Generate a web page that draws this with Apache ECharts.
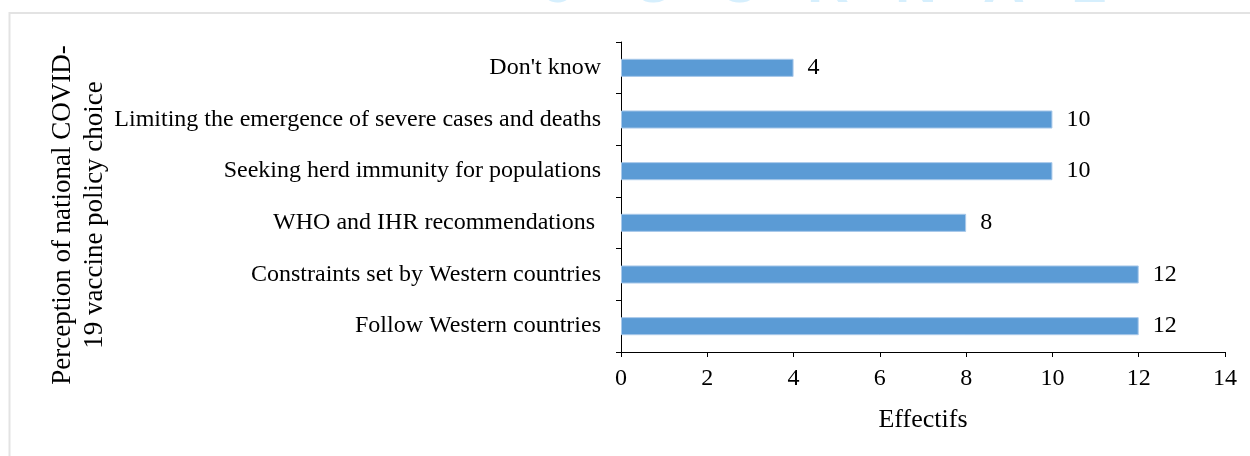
<!DOCTYPE html>
<html>
<head>
<meta charset="utf-8">
<script src="https://cdn.jsdelivr.net/npm/echarts@6/dist/echarts.min.js"></script>
<style>
  html, body { margin: 0; padding: 0; background: #fff; }
  #chart { width: 1250px; height: 456px; }
</style>
</head>
<body>
<div id="chart"></div>
<script>
// bottom to top, as on the axis
var categories = [
  'Follow Western countries',
  'Constraints set by Western countries',
  'WHO and IHR recommendations ',
  'Seeking herd immunity for populations',
  'Limiting the emergence of severe cases and deaths',
  "Don't know"
];
var effectifs = [12, 12, 8, 10, 10, 4];
var xTicks = [0, 2, 4, 6, 8, 10, 12, 14];
var yTitle = 'Perception of national COVID-\n19 vaccine policy choice';

var chart = echarts.init(document.getElementById('chart'));
var serif = '"Liberation Serif", "Times New Roman", serif';

// faint watermark letters cut off at the top of the page
var watermark = 'JOURNAL'.split('').map(function (ch, i) {
  return {
    type: 'text',
    x: 543 + i * 88,
    y: -43,
    style: {
      text: ch,
      font: 'bold 58px "Liberation Sans", sans-serif',
      fill: '#d6effd'
    }
  };
});

var option = {
  backgroundColor: '#fff',
  animation: false,
  textStyle: { fontFamily: serif },
  graphic: [
    {
      type: 'rect',
      shape: { x: 9.5, y: 13, width: 1260, height: 460 },
      style: { fill: 'none', stroke: '#e3e3e3', lineWidth: 2 }
    },
    {
      // y axis title, placed a bit below the plot middle as in the source
      type: 'text',
      x: 79,
      y: 215,
      rotation: Math.PI / 2,
      style: {
        text: yTitle,
        font: '27px ' + serif,
        lineHeight: 32,
        fill: '#000',
        align: 'center',
        verticalAlign: 'middle'
      }
    }
  ].concat(watermark),
  grid: { left: 621, right: 25, top: 42, bottom: 104 },
  xAxis: {
    type: 'value',
    min: 0,
    max: xTicks[xTicks.length - 1],
    interval: 2,
    name: 'Effectifs',
    nameLocation: 'middle',
    nameGap: 55,
    nameTextStyle: { fontSize: 26, color: '#000', fontFamily: serif },
    axisLine: { show: true, lineStyle: { color: '#000', width: 1 } },
    axisTick: { show: true, length: 5, lineStyle: { color: '#000' } },
    axisLabel: { fontSize: 24, color: '#000', margin: 15, fontFamily: serif },
    splitLine: { show: false }
  },
  yAxis: {
    type: 'category',
    data: categories,
    axisLine: { show: true, lineStyle: { color: '#000', width: 1 } },
    axisTick: { show: true, length: 5, lineStyle: { color: '#000' } },
    axisLabel: { fontSize: 24, color: '#000', margin: 20, fontFamily: serif }
  },
  series: [{
    type: 'bar',
    data: effectifs,
    barWidth: '35%',
    itemStyle: { color: '#5b9bd5', borderColor: '#a9c9ea', borderWidth: 1 },
    label: {
      show: true,
      position: 'right',
      distance: 14,
      fontSize: 24,
      color: '#000',
      fontFamily: serif
    }
  }]
};

chart.setOption(option);
</script>
</body>
</html>
